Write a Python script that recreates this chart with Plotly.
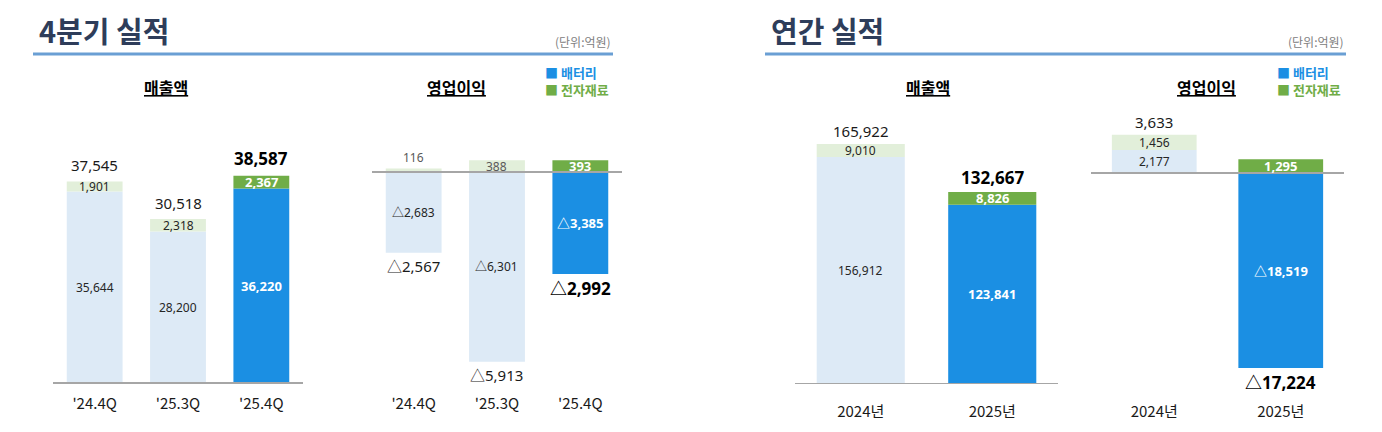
import plotly.graph_objects as go

# ---------------- data ----------------
q_categories = ["'24.4Q", "'25.3Q", "'25.4Q"]
q_rev_battery = [35644, 28200, 36220]
q_rev_materials = [1901, 2318, 2367]
q_rev_total = [37545, 30518, 38587]
q_op_battery = [-2683, -6301, -3385]
q_op_materials = [116, 388, 393]
q_op_total = [-2567, -5913, -2992]

y_categories = ["2024년", "2025년"]
y_rev_battery = [156912, 123841]
y_rev_materials = [9010, 8826]
y_rev_total = [165922, 132667]
y_op_battery = [2177, -18519]
y_op_materials = [1456, 1295]
y_op_total = [3633, -17224]

# ---------------- styles ----------------
W, H = 1382, 432
BLUE, GREEN = "#1b8fe3", "#70ad47"
PALE_BLUE, PALE_GREEN = "#ddeaf6", "#e2efda"
FONT = "Noto Sans, Noto Sans CJK KR, sans-serif"
KFONT = "Noto Sans CJK KR, Noto Sans, sans-serif"

def px(x):
    return x / W

def py(y):
    return 1 - y / H

def fmt(v):
    s = f"{abs(v):,}"
    return ("△" + s) if v < 0 else s

fig = go.Figure()

panels = [
    # (axis suffix, categories, battery, materials, total, x-domain px, y-range, top-label shift)
    ("", q_categories, q_rev_battery, q_rev_materials, q_rev_total, (53, 303), (-186, 52700), 4),
    ("2", q_categories, q_op_battery, q_op_materials, q_op_total, (372, 622), (-7043, 2392), 1),
    ("3", y_categories, y_rev_battery, y_rev_materials, y_rev_total, (795, 1058), (0, 196270), 1),
    ("4", y_categories, y_op_battery, y_op_materials, y_op_total, (1091, 1344), (-20038, 6933), 1),
]

annotations = []
shapes = []
for ax, cats, bat, mat, tot, xd, yr, tshift in panels:
    n = len(cats)
    hl = [i == n - 1 for i in range(n)]
    xa = "x" + ax
    ya = "y" + ax
    fig.add_trace(go.Bar(
        x=cats, y=bat, name="배터리", showlegend=False,
        marker=dict(color=[BLUE if h else PALE_BLUE for h in hl], line=dict(width=0)),
        xaxis=xa, yaxis=ya, hoverinfo="skip"))
    fig.add_trace(go.Bar(
        x=cats, y=mat, name="전자재료", showlegend=False,
        marker=dict(color=[GREEN if h else PALE_GREEN for h in hl], line=dict(width=0)),
        xaxis=xa, yaxis=ya, hoverinfo="skip"))

    annual = ax in ("3", "4")
    for i, c in enumerate(cats):
        b, m, t = bat[i], mat[i], tot[i]
        h = hl[i]
        pos_base = b if b > 0 else 0
        top = pos_base + m
        bottom = min(b, 0)
        # battery label
        annotations.append(dict(
            x=c, y=b / 2, xref=xa, yref=ya, text=(f"<b>{fmt(b)}</b>" if h else fmt(b)),
            showarrow=False, font=dict(family=FONT, size=13 if h else 12,
                                       color="white" if h else "#262626")))
        # materials label
        small = m < 200
        annotations.append(dict(
            x=c, y=(top if small else pos_base + m / 2), xref=xa, yref=ya,
            text=(f"<b>{fmt(m)}</b>" if h else fmt(m)),
            yanchor="bottom" if small else "middle", yshift=1 if small else 0,
            showarrow=False, font=dict(family=FONT, size=13 if h else 12,
                                       color="white" if h else ("#595959" if ax == "2" else "#262626"))))
        # total label
        if t > 0:
            annotations.append(dict(
                x=c, y=top, xref=xa, yref=ya, yanchor="bottom", yshift=tshift,
                text=(f"<b>{fmt(t)}</b>" if h else fmt(t)), showarrow=False,
                font=dict(family=FONT, size=17 if h else 15, color="#000" if h else "#1a1a1a")))
        else:
            annotations.append(dict(
                x=c, y=bottom, xref=xa, yref=ya, yanchor="top", yshift=-1,
                text=(f"<b>{fmt(t)}</b>" if h else fmt(t)), showarrow=False,
                font=dict(family=FONT, size=17 if h else 15, color="#000" if h else "#1a1a1a")))

    shapes.append(dict(type="line", xref=xa + " domain", yref=ya, x0=0, x1=1, y0=0, y1=0,
                       line=dict(color="#a6a6a6", width=2), layer="above"))

    key = "" if ax == "" else ax
    fig.update_layout(**{
        "xaxis" + key: dict(domain=[px(xd[0]), px(xd[1])], anchor=ya, showgrid=False,
                            zeroline=False, showline=False, ticks="outside",
                            ticklen=14 if annual else 6, tickcolor="rgba(0,0,0,0)",
                            tickfont=dict(family=KFONT, size=15, color="#1a1a1a"),
                            fixedrange=True),
        "yaxis" + key: dict(domain=[py(384), py(100)], anchor=xa, range=list(yr),
                            visible=False, fixedrange=True),
    })

# titles / headers
for title, x0, x1 in [("4분기 실적", 33, 613), ("연간 실적", 765, 1346)]:
    annotations.append(dict(x=px(x0 + 4), y=py(30), xref="paper", yref="paper",
                            xanchor="left", yanchor="middle", showarrow=False,
                            text=f"<b>{title}</b>",
                            font=dict(family=KFONT, size=29, color="#2e3d5a")))
    annotations.append(dict(x=px(x1), y=py(42), xref="paper", yref="paper",
                            xanchor="right", yanchor="middle", showarrow=False,
                            text="(단위:억원)",
                            font=dict(family=KFONT, size=12, color="#808080")))
    shapes.append(dict(type="line", xref="paper", yref="paper", x0=px(x0), x1=px(x1),
                       y0=py(54), y1=py(54), line=dict(color="#6a9fd4", width=3)))

for txt, cx in [("매출액", 166), ("영업이익", 456), ("매출액", 928), ("영업이익", 1206)]:
    annotations.append(dict(x=px(cx), y=py(87), xref="paper", yref="paper",
                            xanchor="center", yanchor="middle", showarrow=False,
                            text=f"<b><u>{txt}</u></b>",
                            font=dict(family=KFONT, size=16, color="#000")))

for lx in (543, 1275):
    annotations.append(dict(x=px(lx), y=py(81), xref="paper", yref="paper",
                            xanchor="left", yanchor="middle", align="left", showarrow=False,
                            text=(f"<span style='color:{BLUE}'>■ <b>배터리</b></span><br>"
                                  f"<span style='color:{GREEN}'>■ <b>전자재료</b></span>"),
                            font=dict(family=KFONT, size=13, color=BLUE)))

fig.update_layout(
    width=W, height=H, barmode="relative", bargap=0.33,
    margin=dict(l=0, r=0, t=0, b=0),
    paper_bgcolor="white", plot_bgcolor="white",
    showlegend=False, annotations=annotations, shapes=shapes,
    font=dict(family=FONT),
)

fig.write_html("out.html", config={"displayModeBar": False},
               post_script="document.body.style.margin='0';document.body.style.overflow='hidden';")
